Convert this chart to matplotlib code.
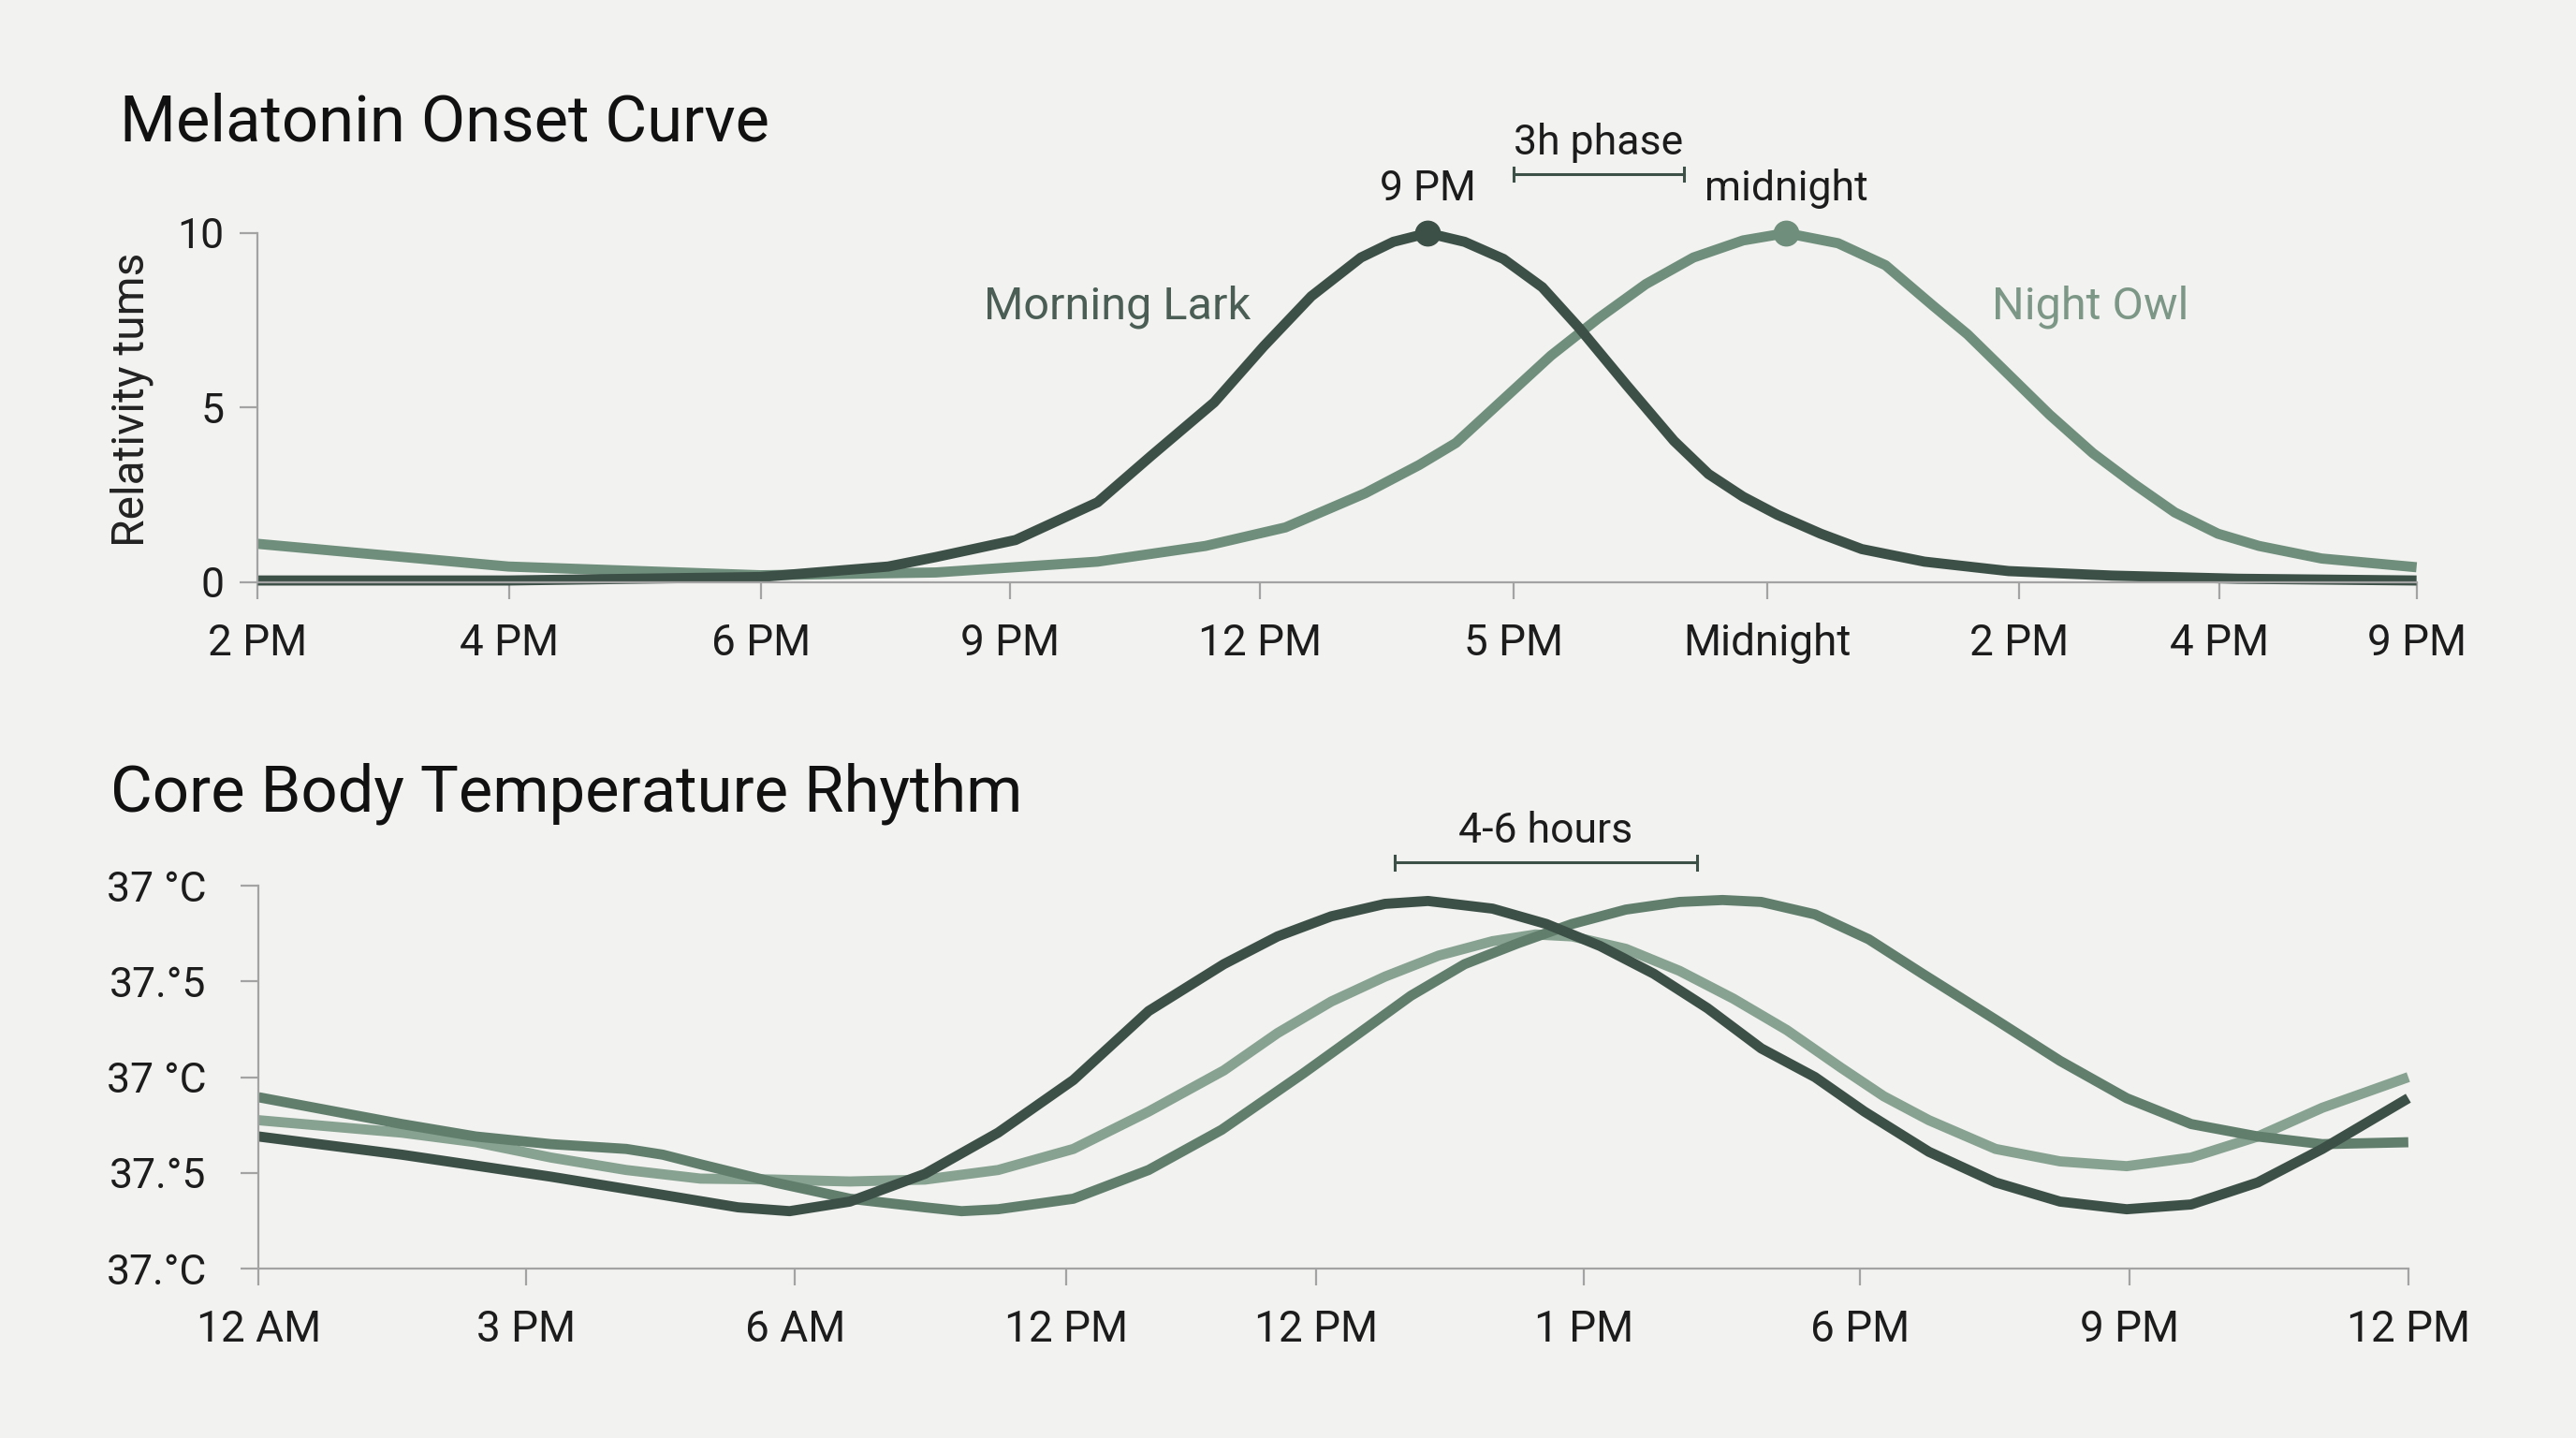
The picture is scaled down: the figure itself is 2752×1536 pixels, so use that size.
import matplotlib
matplotlib.use("Agg")
import matplotlib.pyplot as plt

plt.rcParams["font.family"] = ["Roboto", "DejaVu Sans"]

# melatonin chart (x is position along the axis, 0-100)
mel_ticks = [0, 11.65, 23.29, 34.86, 46.43, 58.15, 69.94, 81.59, 90.87, 100]
mel_tick_labels = ["2 PM", "4 PM", "6 PM", "9 PM", "12 PM", "5 PM", "Midnight", "2 PM", "4 PM", "9 PM"]

lark_x = [0, 11.6, 23.3, 29.2, 31.4, 35.1, 38.9, 41.4, 44.3, 46.6, 48.8, 51.1, 52.6, 54.2,
          55.9, 57.7, 59.5, 61.2, 63.4, 65.6, 67.2, 68.8, 70.4, 72.4, 74.3, 77.2, 81.1, 85.9, 91.7, 100]
lark_y = [0.05, 0.05, 0.15, 0.45, 0.72, 1.21, 2.29, 3.63, 5.15, 6.76, 8.19, 9.30, 9.75, 10.0,
          9.75, 9.26, 8.45, 7.29, 5.65, 4.05, 3.1, 2.45, 1.93, 1.39, 0.95, 0.59, 0.32, 0.19, 0.1, 0.05]

owl_x = [0, 11.6, 23.3, 31.4, 38.9, 43.9, 47.6, 51.3, 53.8, 55.5, 57.7, 59.9, 62.1, 64.3, 66.5,
         68.8, 70.8, 73.2, 75.4, 77.6, 79.2, 81.1, 83.0, 85.0, 86.9, 88.8, 90.8, 92.7, 95.6, 100]
owl_y = [1.1, 0.45, 0.2, 0.28, 0.59, 1.04, 1.57, 2.55, 3.36, 3.99, 5.24, 6.49, 7.56, 8.54, 9.30,
         9.79, 10.0, 9.71, 9.08, 7.92, 7.1, 5.95, 4.8, 3.7, 2.82, 2.0, 1.39, 1.04, 0.68, 0.43]

lark_peak = (54.2, 10.0)
owl_peak = (70.8, 10.0)

# temperature chart
temp_ticks = [0, 12.42, 24.95, 37.56, 49.18, 61.64, 74.48, 87.01, 100]
temp_tick_labels = ["12 AM", "3 PM", "6 AM", "12 PM", "12 PM", "1 PM", "6 PM", "9 PM", "12 PM"]
temp_yticks = [0, 1, 2, 3, 4]
temp_ytick_labels = ["37.°C", "37.°5", "37 °C", "37.°5", "37 °C"]

dark_x = [0, 6.66, 13.6, 18.8, 22.3, 24.7, 27.5, 31.0, 34.4, 37.9, 41.4, 44.9, 47.4, 49.9,
          52.4, 54.4, 57.4, 59.9, 62.4, 64.9, 67.4, 69.9, 72.4, 74.7, 77.7, 80.8, 83.8, 86.9,
          89.9, 93.0, 96.0, 100]
dark_y = [1.38, 1.19, 0.96, 0.77, 0.64, 0.60, 0.70, 0.99, 1.42, 1.97, 2.69, 3.18, 3.47, 3.68,
          3.81, 3.84, 3.76, 3.60, 3.37, 3.08, 2.72, 2.30, 2.0, 1.64, 1.22, 0.90, 0.70, 0.62,
          0.67, 0.90, 1.25, 1.78]

mid_x = [0, 6.66, 10.1, 13.6, 17.1, 18.8, 20.55, 24.0, 27.5, 31.0, 32.7, 34.4, 37.9, 41.4,
         44.8, 48.6, 51.2, 53.6, 56.1, 58.6, 61.1, 63.6, 66.1, 68.1, 69.9, 72.4, 74.9, 77.4,
         80.8, 83.8, 86.9, 89.9, 93.0, 96.0, 100]
mid_y = [1.79, 1.51, 1.38, 1.30, 1.25, 1.19, 1.09, 0.90, 0.73, 0.64, 0.60, 0.62, 0.73, 1.03,
         1.45, 2.04, 2.46, 2.85, 3.18, 3.40, 3.60, 3.75, 3.83, 3.85, 3.83, 3.70, 3.44, 3.08,
         2.60, 2.17, 1.78, 1.51, 1.38, 1.30, 1.32]

light_x = [0, 6.66, 10.1, 13.6, 17.1, 20.55, 24.0, 27.5, 31.0, 34.4, 37.9, 41.4, 44.9, 47.4,
           49.9, 52.4, 54.9, 57.4, 59.4, 61.1, 63.6, 66.1, 68.6, 71.1, 73.6, 75.6, 77.7, 80.8,
           83.8, 86.9, 89.9, 93.0, 96.0, 100]
light_y = [1.55, 1.42, 1.32, 1.16, 1.03, 0.94, 0.93, 0.91, 0.93, 1.03, 1.25, 1.64, 2.07, 2.46,
           2.79, 3.05, 3.27, 3.42, 3.49, 3.47, 3.34, 3.11, 2.82, 2.49, 2.10, 1.80, 1.55, 1.25,
           1.12, 1.07, 1.16, 1.38, 1.68, 2.00]

bg = "#f2f2f0"
c_dark = "#3d5048"
c_owl = "#6f8e7b"
c_mid = "#617e6d"
c_light = "#87a290"
spine_c = "#a3a3a3"
lw = 7.8

fig = plt.figure(figsize=(27.52, 15.36), dpi=100, facecolor=bg)


def style_axes(ax, ypad):
    ax.set_facecolor("none")
    for s in ["top", "right"]:
        ax.spines[s].set_visible(False)
    for s in ["left", "bottom"]:
        ax.spines[s].set_color(spine_c)
        ax.spines[s].set_linewidth(1.6)
    ax.tick_params(axis="both", colors=spine_c, width=1.6, labelcolor="#1c1c1c")
    ax.tick_params(axis="x", length=13, pad=18, labelsize=33)
    ax.tick_params(axis="y", length=14, pad=ypad, labelsize=32)


def curve(ax, x, y, color):
    ax.plot(x, y, color=color, lw=lw, clip_on=False,
            solid_joinstyle="round", solid_capstyle="butt")


# --- top: melatonin ---
ax1 = fig.add_axes([0.1001, 0.5951, 0.838, 0.2428])
style_axes(ax1, 12)
curve(ax1, owl_x, owl_y, c_owl)
curve(ax1, lark_x, lark_y, c_dark)
ax1.plot(*lark_peak, "o", color=c_dark, ms=19, clip_on=False)
ax1.plot(*owl_peak, "o", color=c_owl, ms=19, clip_on=False)
ax1.set_xlim(0, 100)
ax1.set_ylim(0, 10)
ax1.set_xticks(mel_ticks)
ax1.set_xticklabels(mel_tick_labels)
ax1.set_yticks([0, 5, 10])

ax1.text(39.8, 7.88, "Morning Lark", color="#4b5e55", fontsize=35, ha="center", va="center")
ax1.text(84.9, 7.88, "Night Owl", color="#7d9787", fontsize=35, ha="center", va="center")
ax1.text(lark_peak[0], 11.27, "9 PM", color="#1c1c1c", fontsize=32, ha="center", va="center")
ax1.text(owl_peak[0], 11.27, "midnight", color="#1c1c1c", fontsize=32, ha="center", va="center")
ax1.text(62.1, 12.58, "3h phase", color="#1c1c1c", fontsize=32, ha="center", va="center")
ax1.plot([58.15, 66.06], [11.69, 11.69], color=c_dark, lw=2.2, clip_on=False)
ax1.plot([58.15, 58.15], [11.5, 11.88], color=c_dark, lw=2.2, clip_on=False)
ax1.plot([66.06, 66.06], [11.5, 11.88], color=c_dark, lw=2.2, clip_on=False)

fig.text(0.0466, 0.9143, "Melatonin Onset Curve", fontsize=49.5, color="#111111", ha="left", va="center")
fig.text(0.051, 1 - 426.5 / 1536, "Relativity tums", fontsize=34.5, color="#222222",
         rotation=90, ha="center", va="center")

# --- bottom: core body temperature ---
ax2 = fig.add_axes([0.1004, 0.1178, 0.8345, 0.2663])
style_axes(ax2, 26)
curve(ax2, light_x, light_y, c_light)
curve(ax2, mid_x, mid_y, c_mid)
curve(ax2, dark_x, dark_y, c_dark)
ax2.set_xlim(0, 100)
ax2.set_ylim(0, 4)
ax2.set_xticks(temp_ticks)
ax2.set_xticklabels(temp_tick_labels)
ax2.set_yticks(temp_yticks)
ax2.set_yticklabels(temp_ytick_labels)

ax2.text(59.88, 4.565, "4-6 hours", color="#1c1c1c", fontsize=32, ha="center", va="center")
ax2.plot([52.85, 66.9], [4.24, 4.24], color=c_dark, lw=2.2, clip_on=False)
ax2.plot([52.85, 52.85], [4.17, 4.31], color=c_dark, lw=2.2, clip_on=False)
ax2.plot([66.9, 66.9], [4.17, 4.31], color=c_dark, lw=2.2, clip_on=False)

fig.text(0.0427, 0.4481, "Core Body Temperature Rhythm", fontsize=49.5, color="#111111", ha="left", va="center")

fig.savefig("out.png", dpi=100, facecolor=bg)
